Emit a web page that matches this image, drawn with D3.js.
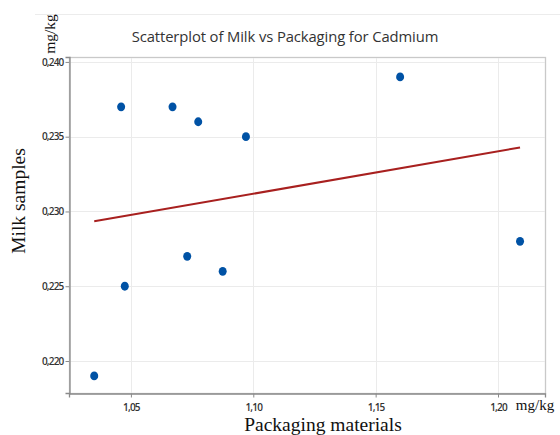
<!DOCTYPE html>
<html>
<head>
<meta charset="utf-8">
<script src="https://cdn.jsdelivr.net/npm/d3@7"></script>
<style>
  html, body { margin: 0; padding: 0; background: #fff; }
  svg { display: block; }
</style>
</head>
<body>
<svg id="chart" width="560" height="435"></svg>
<script>
// Cadmium content: packaging material (x) vs milk sample (y), mg/kg
const packaging = [1.035, 1.046, 1.0475, 1.067, 1.073, 1.0775, 1.0875, 1.097, 1.160, 1.209];
const milk      = [0.219, 0.237, 0.225, 0.237, 0.227, 0.236, 0.226, 0.235, 0.239, 0.228];
const xTicks = [1.05, 1.10, 1.15, 1.20];
const yTicks = [0.220, 0.225, 0.230, 0.235, 0.240];

const svg = d3.select("#chart");
const plot = { left: 69, right: 545, top: 57, bottom: 393 };

const x = d3.scaleLinear().domain([1.0247, 1.2192]).range([plot.left, plot.right]);
const y = d3.scaleLinear().domain([0.21786, 0.24033]).range([plot.bottom, plot.top]);

const fmt2 = d => d3.format(".2f")(d).replace(".", ",");
const fmt3 = d => d3.format(".3f")(d).replace(".", ",");

// outer graph frame line
svg.append("line")
  .attr("x1", 35).attr("x2", 560).attr("y1", 14.5).attr("y2", 14.5)
  .attr("stroke", "#ececec").attr("stroke-width", 1);

// plot frame (top/right)
svg.append("rect")
  .attr("x", plot.left + 0.5).attr("y", plot.top + 0.5)
  .attr("width", plot.right - plot.left).attr("height", plot.bottom - plot.top)
  .attr("fill", "none").attr("stroke", "#c9c9c9").attr("stroke-width", 1.3);

// gridlines
svg.append("g").selectAll("line.gx").data(xTicks).join("line")
  .attr("x1", d => Math.round(x(d)) + 0.5).attr("x2", d => Math.round(x(d)) + 0.5)
  .attr("y1", plot.top + 1).attr("y2", plot.bottom)
  .attr("stroke", "#ebebeb").attr("stroke-width", 1);
svg.append("g").selectAll("line.gy").data(yTicks).join("line")
  .attr("x1", plot.left).attr("x2", plot.right)
  .attr("y1", d => Math.round(y(d)) + 0.5).attr("y2", d => Math.round(y(d)) + 0.5)
  .attr("stroke", "#ebebeb").attr("stroke-width", 1);

// axes
const xAxis = svg.append("g")
  .attr("transform", `translate(0,${plot.bottom + 0.5})`)
  .call(d3.axisBottom(x).tickValues(xTicks).tickFormat(fmt2).tickSize(4).tickPadding(6));
const yAxis = svg.append("g")
  .attr("transform", `translate(${plot.left + 0.5},0)`)
  .call(d3.axisLeft(y).tickValues(yTicks).tickFormat(fmt3).tickSize(4).tickPadding(2));
[xAxis, yAxis].forEach(g => {
  g.select(".domain").attr("stroke", "#8a8a8a").attr("stroke-width", 1.3);
  g.selectAll(".tick line").attr("stroke", "#8a8a8a");
  g.selectAll(".tick text")
    .attr("fill", "#333")
    .style("font-family", "'Open Sans', 'Noto Sans', sans-serif")
    .style("font-size", "10px")
    .style("font-weight", "600")
    .style("letter-spacing", "-0.8px");
});

// regression line (least squares)
const mx = d3.mean(packaging), my = d3.mean(milk);
const sxy = d3.sum(packaging, (v, i) => (v - mx) * (milk[i] - my));
const sxx = d3.sum(packaging, v => (v - mx) ** 2);
const slope = sxy / sxx, icpt = my - slope * mx;
const xr = d3.extent(packaging);
svg.append("line")
  .attr("x1", x(xr[0])).attr("y1", y(icpt + slope * xr[0]))
  .attr("x2", x(xr[1])).attr("y2", y(icpt + slope * xr[1]))
  .attr("stroke", "#a8201f").attr("stroke-width", 2);

// points
svg.append("g").selectAll("ellipse").data(packaging).join("ellipse")
  .attr("cx", d => x(d)).attr("cy", (d, i) => y(milk[i]))
  .attr("rx", 4).attr("ry", 4.4)
  .attr("fill", "#0052a5");

// title
svg.append("text")
  .attr("x", 285).attr("y", 42)
  .attr("text-anchor", "middle")
  .attr("fill", "#333")
  .style("font-family", "'Open Sans', 'Noto Sans', sans-serif")
  .style("font-size", "14.8px")
  .style("letter-spacing", "-0.1px")
  .text("Scatterplot of Milk vs Packaging for Cadmium");

// axis titles
const serif = "'Liberation Serif', 'DejaVu Serif', serif";
svg.append("text")
  .attr("transform", "translate(25,201) rotate(-90)")
  .attr("text-anchor", "middle")
  .attr("fill", "#111")
  .style("font-family", serif).style("font-size", "19.5px")
  .text("Milk samples");
svg.append("text")
  .attr("transform", "translate(55,34) rotate(-90)")
  .attr("text-anchor", "middle")
  .attr("fill", "#111")
  .style("font-family", serif).style("font-size", "15.5px")
  .text("mg/kg");
svg.append("text")
  .attr("x", 323).attr("y", 431)
  .attr("text-anchor", "middle")
  .attr("fill", "#111")
  .style("font-family", serif).style("font-size", "19.5px")
  .text("Packaging materials");
svg.append("text")
  .attr("x", 535).attr("y", 410)
  .attr("text-anchor", "middle")
  .attr("fill", "#111")
  .style("font-family", serif).style("font-size", "15px")
  .text("mg/kg");
</script>
</body>
</html>
